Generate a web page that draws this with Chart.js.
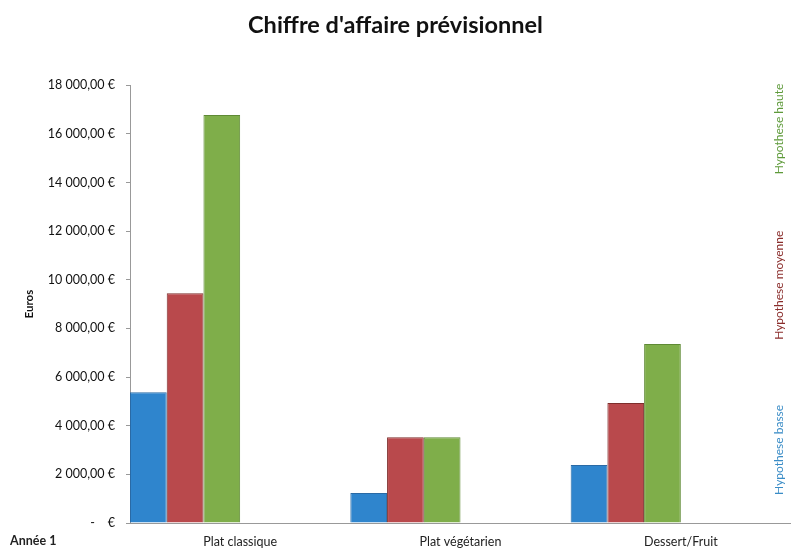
<!DOCTYPE html>
<html lang="fr">
<head>
  <meta charset="UTF-8">
  <title>Chiffre d'affaire prévisionnel</title>
  <script src="https://cdn.jsdelivr.net/npm/chart.js"></script>
  <style>
    html, body { margin: 0; padding: 0; background: #fff; }
    .wrap { width: 791px; height: 548px; position: relative; }
  </style>
</head>
<body>
  <div class="wrap">
    <canvas id="ca"></canvas>
  </div>
  <script>
    const produits = ['Plat classique', 'Plat végétarien', 'Dessert/Fruit'];
    const hypBasse = [5380, 1230, 2380];
    const hypMoyenne = [9450, 3530, 4930];
    const hypHaute = [16770, 3530, 7360];
    const yTicks = [0, 2000, 4000, 6000, 8000, 10000, 12000, 14000, 16000, 18000];

    const police = 'Lato, "Open Sans", sans-serif';

    function euros(v) {
      if (v === 0) return '-    €';
      const ent = Math.floor(v).toString().replace(/\B(?=(\d{3})+(?!\d))/g, ' ');
      return ent + ',00 €';
    }

    // libellés des hypothèses écrits à la verticale sur la droite + "Année 1"
    const legendeVerticale = {
      id: 'legendeVerticale',
      afterDraw(chart) {
        const ctx = chart.ctx;
        const a = chart.chartArea;
        const pos = [0.167, 0.543, 0.90]; // basse, moyenne, haute (fraction depuis le bas)
        const couleurs = ['#3a8cc6', '#8a2d2b', '#5e9a3a'];
        ctx.save();
        ctx.font = '12px ' + police;
        ctx.textAlign = 'center';
        ctx.textBaseline = 'middle';
        chart.data.datasets.forEach((ds, i) => {
          ctx.save();
          ctx.translate(779, a.bottom - pos[i] * (a.bottom - a.top));
          ctx.rotate(-Math.PI / 2);
          ctx.fillStyle = couleurs[i];
          ctx.fillText(ds.label, 0, 0);
          ctx.restore();
        });
        ctx.font = 'bold 12.5px ' + police;
        ctx.fillStyle = '#222';
        ctx.textAlign = 'left';
        ctx.fillText('Année 1', 10, 541);
        ctx.restore();
      }
    };

    const pts = arr => arr.map((v, i) => ({ x: i, y: v }));

    new Chart(document.getElementById('ca'), {
      type: 'bar',
      data: {
        labels: produits,
        datasets: [
          { label: 'Hypothese basse', data: pts(hypBasse), backgroundColor: '#2f85cd', borderColor: '#2a6aa5', borderWidth: 1, xAxisID: 'xb' },
          { label: 'Hypothese moyenne', data: pts(hypMoyenne), backgroundColor: '#b9494c', borderColor: '#7e2e2c', borderWidth: 1, xAxisID: 'xb' },
          { label: 'Hypothese haute', data: pts(hypHaute), backgroundColor: '#7fae4a', borderColor: '#5f8a35', borderWidth: 1, xAxisID: 'xb' }
        ]
      },
      options: {
        responsive: true,
        maintainAspectRatio: false,
        animation: false,
        categoryPercentage: 0.5,
        barPercentage: 1,
        layout: { padding: { top: 0, right: 0, bottom: 0, left: 0 } },
        plugins: {
          legend: { display: false },
          tooltip: { enabled: false },
          title: {
            display: true,
            text: "Chiffre d'affaire prévisionnel",
            color: '#111',
            font: { family: police, size: 23.5, weight: 'bold' },
            padding: { top: 11, bottom: 46 }
          }
        },
        scales: {
          x: {
            type: 'category',
            offset: true,
            grid: { drawOnChartArea: false, drawTicks: false },
            border: { color: '#999', width: 1 },
            ticks: { color: '#222', font: { family: police, size: 12.5 }, padding: 11 },
            afterFit: s => { s.height = 25; }
          },
          xb: {
            type: 'linear',
            display: false,
            offset: false,
            min: -0.25,
            max: 2.75,
            afterBuildTicks: s => { s.ticks = produits.map((p, i) => ({ value: i })); }
          },
          y: {
            min: 0,
            max: 18000,
            afterBuildTicks: s => { s.ticks = yTicks.map(v => ({ value: v })); },
            grid: { drawOnChartArea: false, drawTicks: true, tickLength: 4, color: '#999' },
            border: { color: '#999', width: 1 },
            ticks: {
              color: '#111',
              font: { family: police, size: 12.5 },
              padding: 11,
              callback: v => euros(v)
            },
            title: {
              display: true,
              text: 'Euros',
              color: '#111',
              font: { family: police, size: 11.5, weight: 'bold' },
              padding: { top: 22, bottom: 0 }
            },
            afterFit: s => { s.width = 130; }
          }
        }
      },
      plugins: [legendeVerticale]
    });
  </script>
</body>
</html>
